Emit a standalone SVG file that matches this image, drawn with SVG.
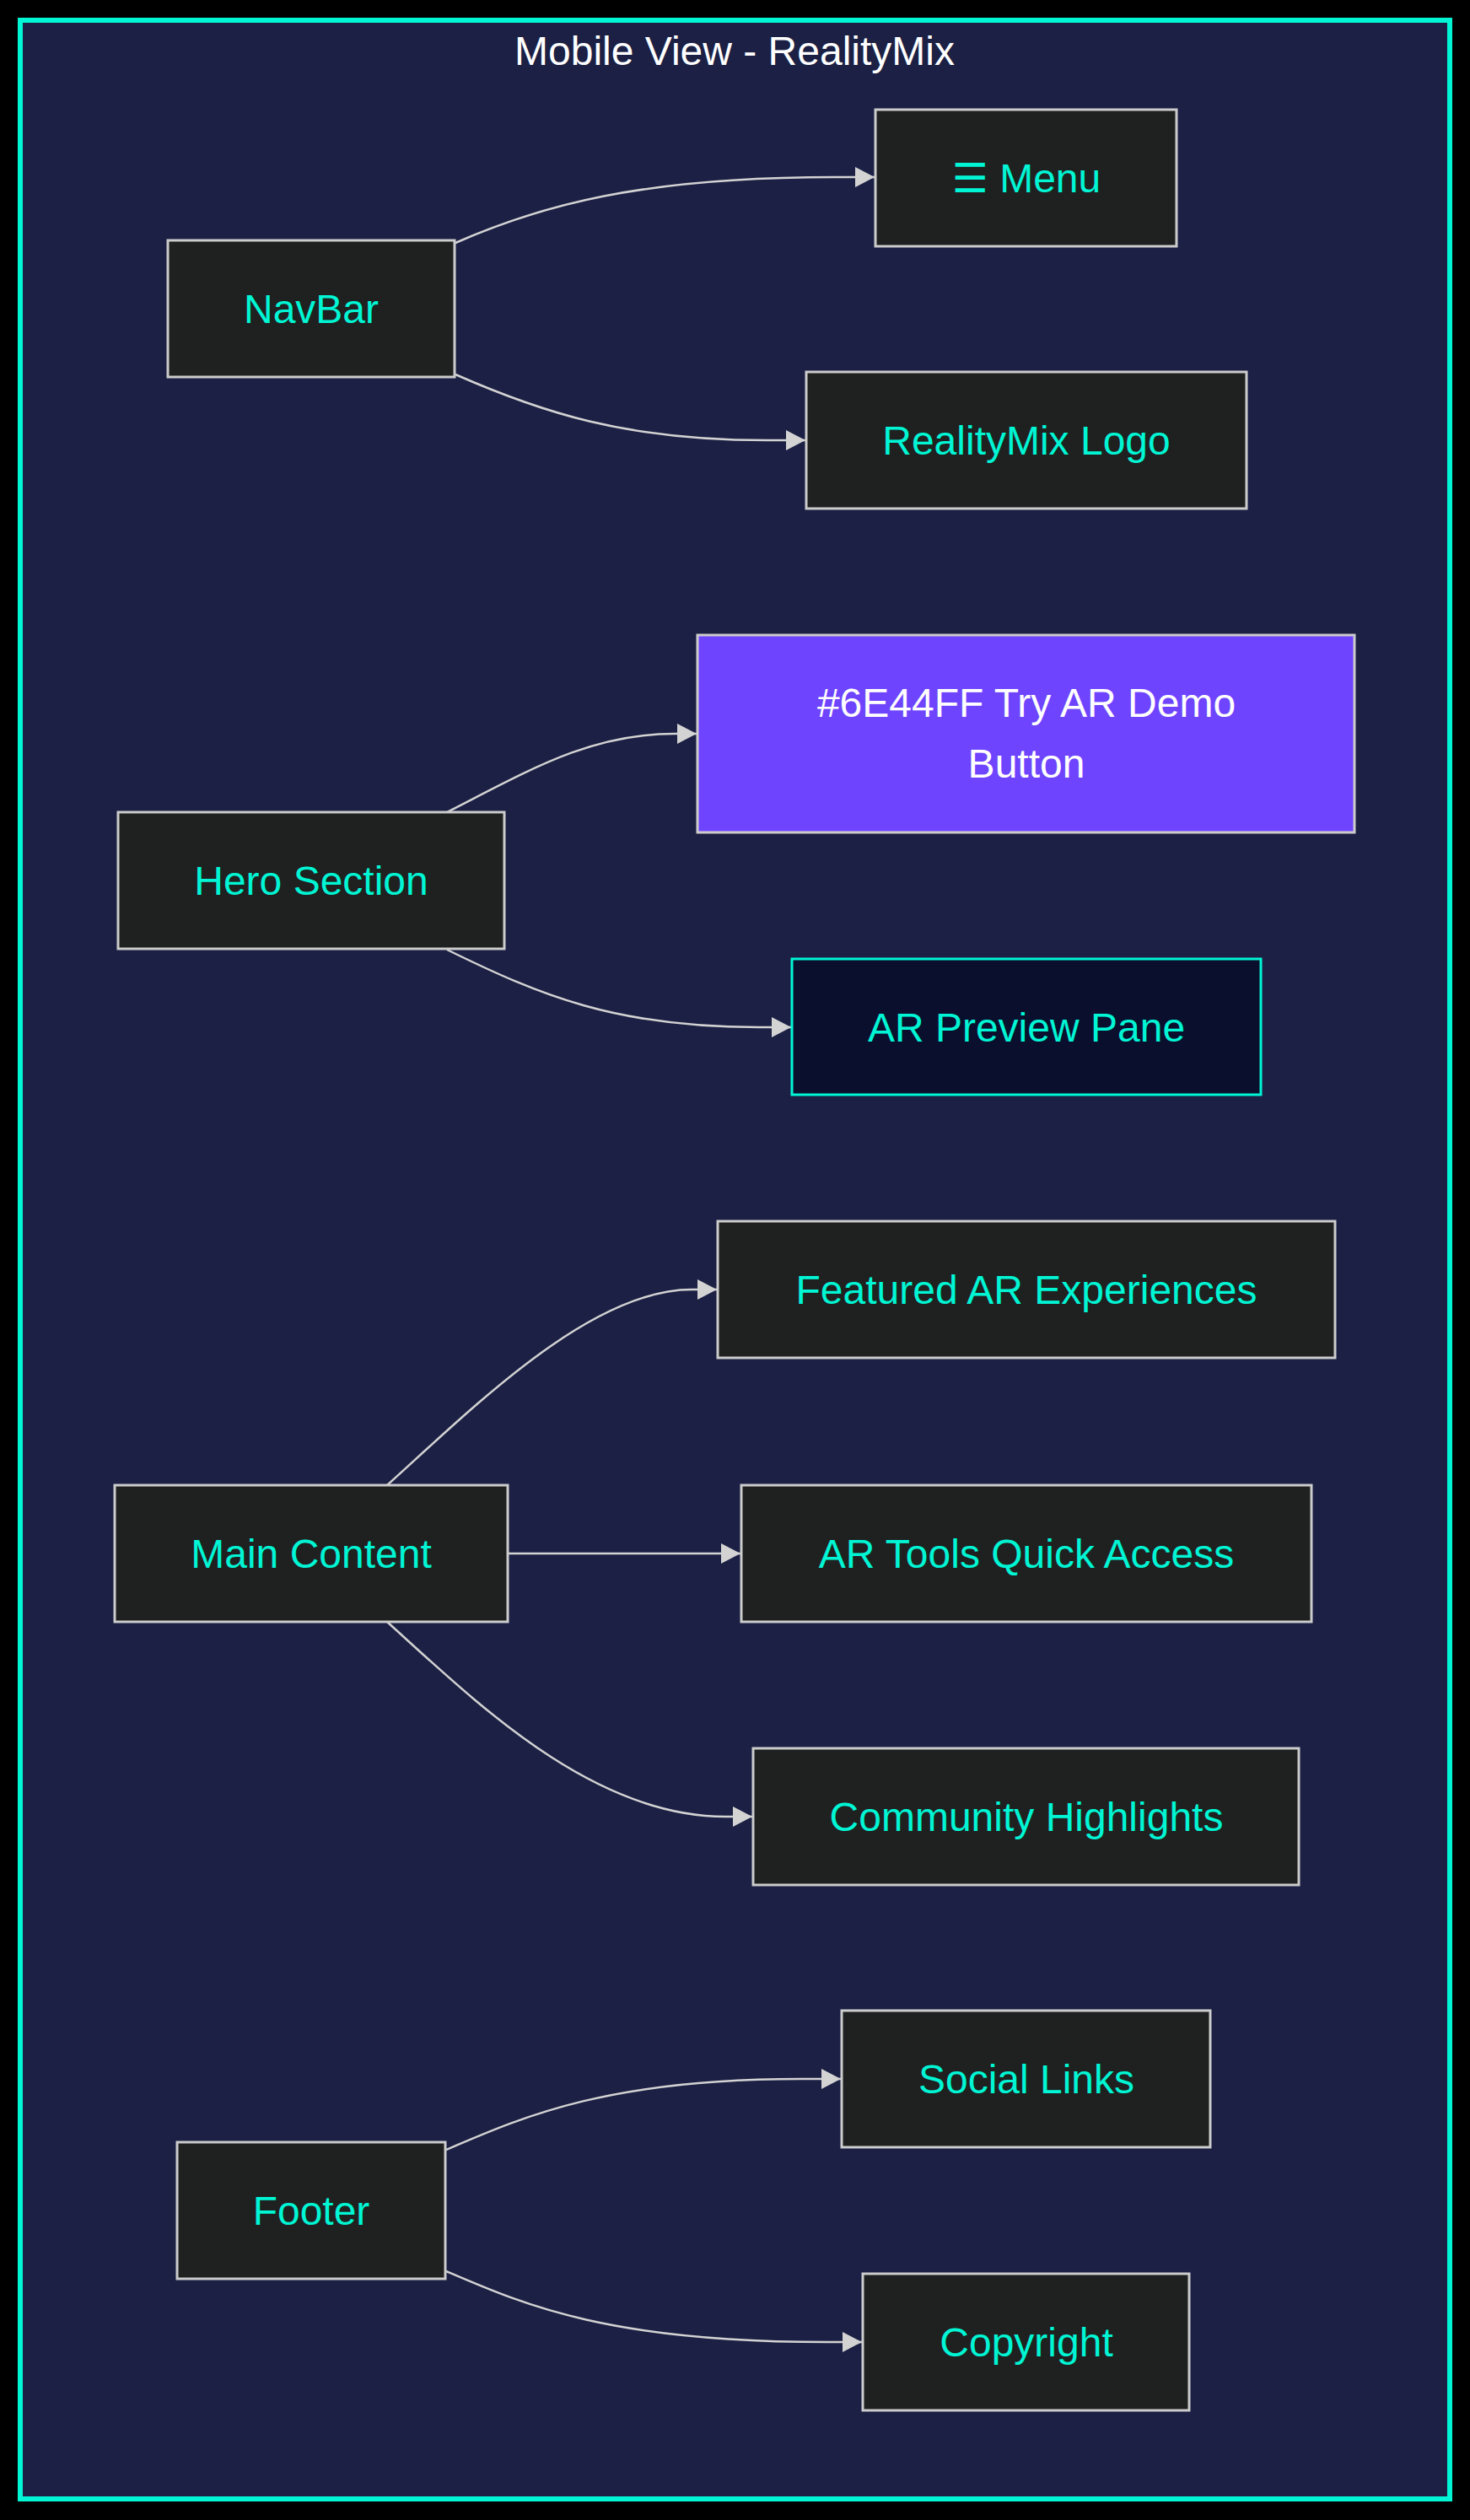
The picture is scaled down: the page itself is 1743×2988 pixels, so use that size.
<svg xmlns="http://www.w3.org/2000/svg" width="1743" height="2988" viewBox="0 0 1743 2988">
<style>
.frame{fill:#1b2044;stroke:#00f5d4;stroke-width:6}
.node rect{fill:#1f2020;stroke:#cccccc;stroke-width:3}
.node text{font-family:"Liberation Sans",Arial,"DejaVu Sans",sans-serif;font-size:48px;fill:#00f5d4;text-anchor:middle}
.title{font-family:"Liberation Sans",Arial,sans-serif;font-size:48px;fill:#ffffff;text-anchor:middle}
.edge{fill:none;stroke:#d3d3d3;stroke-width:2.5;marker-end:url(#arrow)}
</style>
<defs>
<marker id="arrow" markerUnits="userSpaceOnUse" markerWidth="24" markerHeight="24" refX="23" refY="12" orient="auto">
<path d="M0,0 L23,12 L0,24 z" fill="#d3d3d3"/>
</marker>
</defs>
<rect x="0" y="0" width="1743" height="2988" fill="#000000"/>
<rect class="frame" x="24" y="24" width="1695" height="2939"/>
<text class="title" x="871" y="77">Mobile View - RealityMix</text>

<g id="connectors">
<path class="edge" d="M540,288 C640,244 760,210 990,210 L1037,210"/>
<path class="edge" d="M540,444 C640,488 740,522 910,522 L955,522"/>
<path class="edge" d="M530,963 C630,912 700,870 800,870 L826,870"/>
<path class="edge" d="M530,1126 C640,1180 730,1218 900,1218 L938,1218"/>
<path class="edge" d="M459,1761 C560,1670 700,1529 820,1529 L850,1529"/>
<path class="edge" d="M602,1842 L878,1842"/>
<path class="edge" d="M459,1923 C560,2014 700,2154 860,2154 L892,2154"/>
<path class="edge" d="M529,2549 C620,2510 720,2465 950,2465 L997,2465"/>
<path class="edge" d="M529,2693 C620,2732 720,2777 980,2777 L1022,2777"/>
</g>

<g id="navbar" class="node"><rect x="199" y="285" width="340" height="162"/><text x="369" y="383">NavBar</text></g>
<g id="menu" class="node"><rect x="1038" y="130" width="357" height="162"/><text x="1217" y="228">☰ Menu</text></g>
<g id="logo" class="node"><rect x="956" y="441" width="522" height="162"/><text x="1217" y="539">RealityMix Logo</text></g>
<g id="hero" class="node"><rect x="140" y="963" width="458" height="162"/><text x="369" y="1061">Hero Section</text></g>
<g id="tryar" class="node"><rect x="827" y="753" width="779" height="234" style="fill:#6e44ff"/><text x="1217" y="850" style="fill:#ffffff">#6E44FF Try AR Demo</text><text x="1217" y="922" style="fill:#ffffff">Button</text></g>
<g id="preview" class="node"><rect x="939" y="1137" width="556" height="161" style="fill:#0a0f2e;stroke:#00f5d4"/><text x="1217" y="1235">AR Preview Pane</text></g>
<g id="main" class="node"><rect x="136" y="1761" width="466" height="162"/><text x="369" y="1859">Main Content</text></g>
<g id="featured" class="node"><rect x="851" y="1448" width="732" height="162"/><text x="1217" y="1546">Featured AR Experiences</text></g>
<g id="tools" class="node"><rect x="879" y="1761" width="676" height="162"/><text x="1217" y="1859">AR Tools Quick Access</text></g>
<g id="community" class="node"><rect x="893" y="2073" width="647" height="162"/><text x="1217" y="2171">Community Highlights</text></g>
<g id="footer" class="node"><rect x="210" y="2540" width="318" height="162"/><text x="369" y="2638">Footer</text></g>
<g id="social" class="node"><rect x="998" y="2384" width="437" height="162"/><text x="1217" y="2482">Social Links</text></g>
<g id="copyright" class="node"><rect x="1023" y="2696" width="387" height="162"/><text x="1217" y="2794">Copyright</text></g>
</svg>
